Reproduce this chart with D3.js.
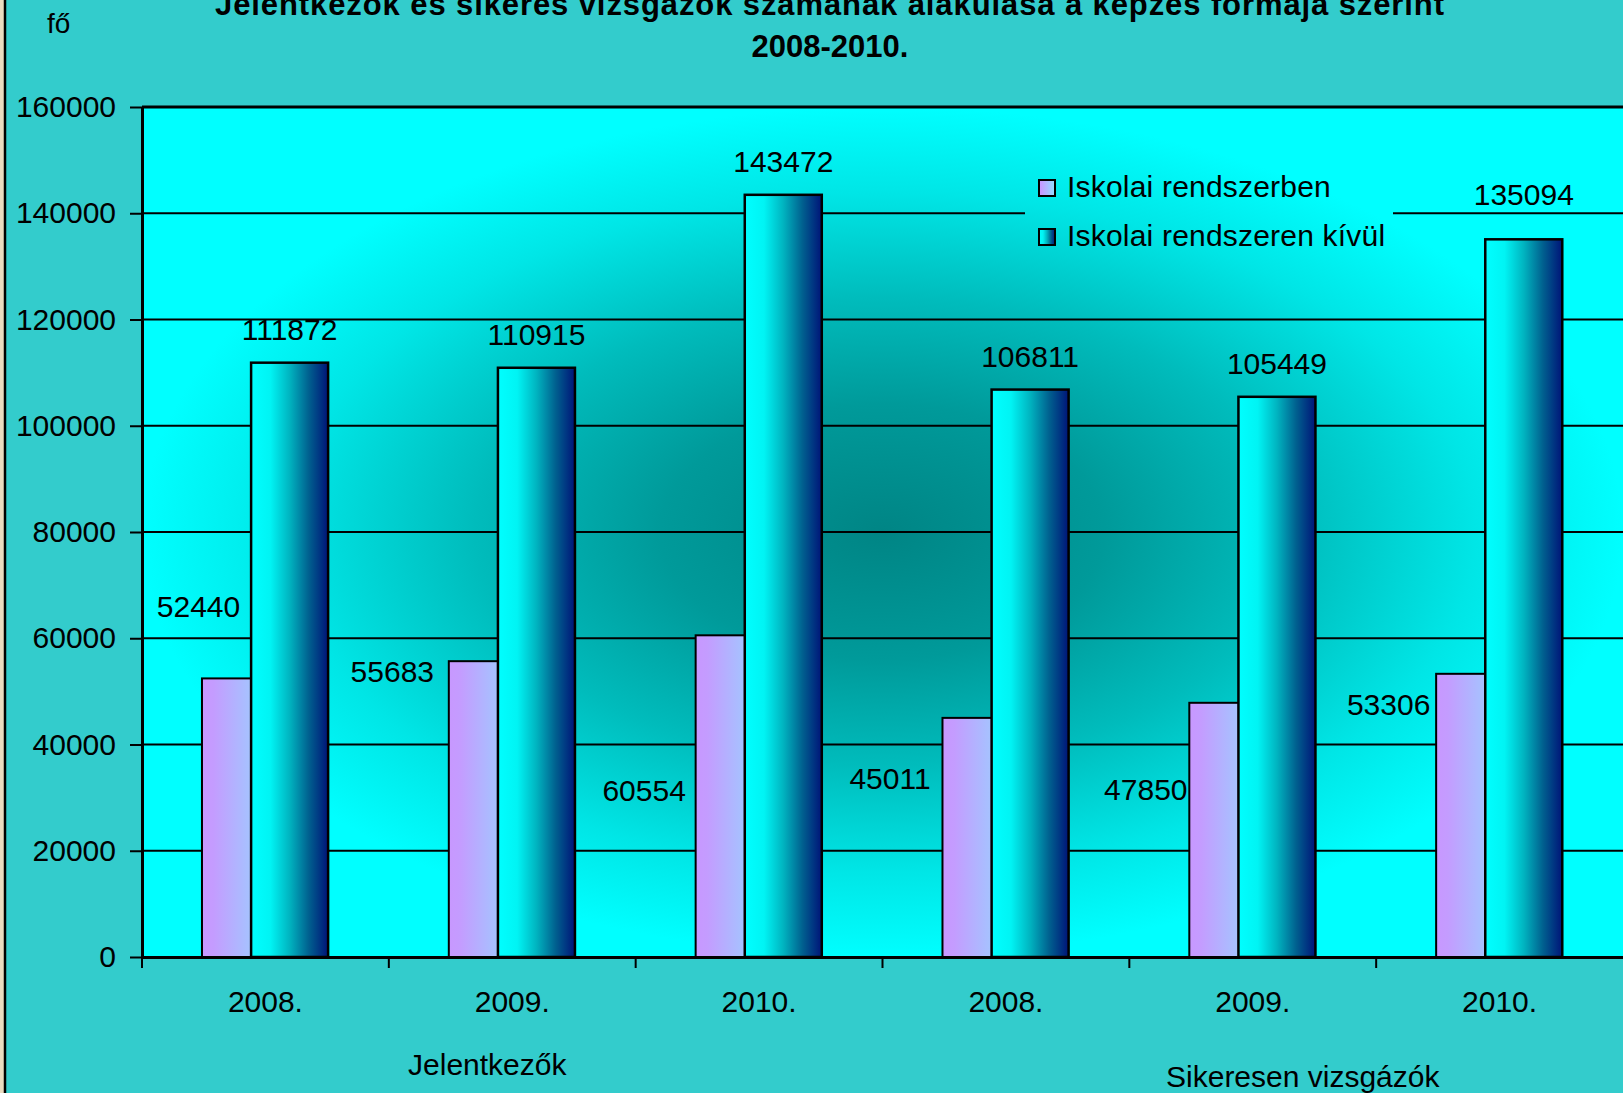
<!DOCTYPE html>
<html>
<head>
<meta charset="utf-8">
<script src="https://cdn.jsdelivr.net/npm/d3@7"></script>
<style>
  body { margin: 0; background: #33cccc; overflow: hidden; }
  svg text { font-family: "Liberation Sans", Arial, sans-serif; fill: #000; }
</style>
</head>
<body>
<div class="chartBox"></div>
<script>
// chart values
var categories = ["2008.", "2009.", "2010.", "2008. ", "2009. ", "2010. "];
var groups = ["Jelentkezők", "Sikeresen vizsgázók"];
var seriesNames = ["Iskolai rendszerben", "Iskolai rendszeren kívül"];
var inSchool = [52440, 55683, 60554, 45011, 47850, 53306];
var outSchool = [111872, 110915, 143472, 106811, 105449, 135094];
var yTicks = [0, 20000, 40000, 60000, 80000, 100000, 120000, 140000, 160000];

// hand placed label offsets (the purple labels were dragged around in the original)
var inLabelDx = [-42, -95, -90, -91, -82, -86];
var inLabelDy = [-72, 10, 155, 60, 86, 30];
var outLabelDy = [-34, -34, -34, -34, -34, -45];

var Chart = (function(){
  var W = 1623, H = 1093;
  var plot = {left: 142, top: 107, right: 1623, bottom: 957};
  var svg, defs, x, y;

  var makeGradients = function(){
    var bg = defs.append("radialGradient")
      .attr("id", "plotBg")
      .attr("gradientUnits", "userSpaceOnUse")
      .attr("cx", 0).attr("cy", 0).attr("r", 1)
      .attr("gradientTransform", "translate(" + ((plot.left + plot.right) / 2) + "," + ((plot.top + plot.bottom) / 2) + ") scale(" + ((plot.right - plot.left) / 2) + "," + ((plot.bottom - plot.top) / 2) + ")");
    [[0, "#008585"], [0.3, "#009a9a"], [0.55, "#00bcbc"], [0.8, "#00e6e6"], [1, "#00ffff"]].forEach(function(s){
      bg.append("stop").attr("offset", s[0]).attr("stop-color", s[1]);
    });

    var purple = defs.append("linearGradient").attr("id", "purpleBar");
    purple.append("stop").attr("offset", 0).attr("stop-color", "#c898ff");
    purple.append("stop").attr("offset", 0.15).attr("stop-color", "#c49cff");
    purple.append("stop").attr("offset", 1).attr("stop-color", "#8ee0ff");

    var cyan = defs.append("linearGradient").attr("id", "cyanBar");
    [[0, "#00ffff"], [0.25, "#00f4f4"], [0.5, "#00b4c0"], [0.75, "#00608f"], [1, "#001478"]].forEach(function(s){
      cyan.append("stop").attr("offset", s[0]).attr("stop-color", s[1]);
    });
  };

  var draw = function(){
    svg = d3.select(".chartBox").append("svg")
      .attr("width", W)
      .attr("height", H);
    defs = svg.append("defs");
    makeGradients();

    // outer area + left border
    svg.append("rect").attr("width", W).attr("height", H).attr("fill", "#33cccc");
    svg.append("rect").attr("x", 0).attr("y", 0).attr("width", 4).attr("height", H).attr("fill", "#eadcc0");
    svg.append("line").attr("x1", 5).attr("x2", 5).attr("y1", 0).attr("y2", H)
      .attr("stroke", "#000").attr("stroke-width", 2.5);

    x = d3.scaleBand().domain(categories).range([plot.left, plot.right]);
    y = d3.scaleLinear().domain([0, 160000]).range([plot.bottom, plot.top]);

    svg.append("rect")
      .attr("x", plot.left).attr("y", plot.top)
      .attr("width", plot.right - plot.left).attr("height", plot.bottom - plot.top)
      .attr("fill", "url(#plotBg)");

    // gridlines
    svg.append("g").selectAll("line").data(yTicks.slice(1)).enter().append("line")
      .attr("x1", plot.left).attr("x2", plot.right)
      .attr("y1", function(d){ return y(d); }).attr("y2", function(d){ return y(d); })
      .attr("stroke", "#000")
      .attr("stroke-width", function(d){ return d === 160000 ? 3 : 2; });

    // legend (covers the gridline)
    var legend = svg.append("g");
    legend.append("rect").attr("x", 1025).attr("y", 165).attr("width", 368).attr("height", 97)
      .attr("fill", "url(#plotBg)");
    var items = legend.selectAll(".item").data(seriesNames).enter().append("g")
      .attr("transform", function(d, i){ return "translate(1039," + (180 + i * 49) + ")"; });
    items.append("rect").attr("width", 16).attr("height", 16)
      .attr("fill", function(d, i){ return i === 0 ? "url(#purpleBar)" : "url(#cyanBar)"; })
      .attr("stroke", "#000").attr("stroke-width", 2);
    items.append("text").attr("x", 28).attr("y", 17)
      .style("font-size", "30px").style("letter-spacing", "0.2px")
      .text(function(d){ return d; });

    var bw = x.bandwidth();
    var barW = bw * 0.312;

    var bars = svg.append("g");
    bars.selectAll(".inBar").data(inSchool).enter().append("rect")
      .attr("x", function(d, i){ return x(categories[i]) + bw * 0.243; })
      .attr("y", function(d){ return y(d); })
      .attr("width", barW)
      .attr("height", function(d){ return y(0) - y(d); })
      .attr("fill", "url(#purpleBar)")
      .attr("stroke", "#000").attr("stroke-width", 2);
    bars.selectAll(".outBar").data(outSchool).enter().append("rect")
      .attr("x", function(d, i){ return x(categories[i]) + bw * 0.442; })
      .attr("y", function(d){ return y(d); })
      .attr("width", barW)
      .attr("height", function(d){ return y(0) - y(d); })
      .attr("fill", "url(#cyanBar)")
      .attr("stroke", "#000").attr("stroke-width", 2.5);

    // value labels
    var labels = svg.append("g").style("font-size", "30px").attr("text-anchor", "middle");
    labels.selectAll(".inLbl").data(inSchool).enter().append("text")
      .attr("x", function(d, i){ return x(categories[i]) + bw * 0.243 + barW / 2 + inLabelDx[i]; })
      .attr("y", function(d, i){ return y(d) + inLabelDy[i] + 11; })
      .text(function(d){ return d; });
    labels.selectAll(".outLbl").data(outSchool).enter().append("text")
      .attr("x", function(d, i){ return x(categories[i]) + bw * 0.442 + barW / 2; })
      .attr("y", function(d, i){ return y(d) + outLabelDy[i] + 11; })
      .text(function(d){ return d; });

    // y axis
    var yAxis = svg.append("g")
      .attr("transform", "translate(" + plot.left + ",0)")
      .call(d3.axisLeft(y).tickValues(yTicks).tickFormat(d3.format("d"))
        .tickSize(12).tickPadding(14).tickSizeOuter(0));
    yAxis.select(".domain").attr("stroke", "#000").attr("stroke-width", 3);
    yAxis.selectAll(".tick line").attr("stroke", "#000").attr("stroke-width", 2);
    yAxis.selectAll("text").style("font-size", "30px").style("font-family", "Liberation Sans, Arial, sans-serif");

    // x axis
    var xAxis = svg.append("g")
      .attr("transform", "translate(0," + plot.bottom + ")")
      .call(d3.axisBottom(x).tickSize(0).tickPadding(34).tickSizeOuter(0));
    xAxis.select(".domain").attr("stroke", "#000").attr("stroke-width", 3);
    xAxis.selectAll("text").style("font-size", "30px").style("font-family", "Liberation Sans, Arial, sans-serif");
    xAxis.selectAll(".sep").data(categories).enter().append("line")
      .attr("x1", function(d){ return x(d); }).attr("x2", function(d){ return x(d); })
      .attr("y1", 0).attr("y2", 11)
      .attr("stroke", "#000").attr("stroke-width", 2);

    // group labels under the categories
    var groupPos = [[categories[1], -25, 1075], [categories[4], 50, 1087]];
    svg.append("g").attr("text-anchor", "middle").style("font-size", "30px")
      .selectAll("text").data(groups).enter().append("text")
      .attr("x", function(d, i){ return x(groupPos[i][0]) + bw / 2 + groupPos[i][1]; })
      .attr("y", function(d, i){ return groupPos[i][2]; })
      .text(function(d){ return d; });

    // title + unit
    var title = svg.append("g").attr("text-anchor", "middle")
      .style("font-size", "31px").style("font-weight", "bold");
    title.append("text").attr("x", 830).attr("y", 15).style("letter-spacing", "0.9px")
      .text("Jelentkezők és sikeres vizsgázók számának alakulása a képzés formája szerint");
    title.append("text").attr("x", 830).attr("y", 57).text("2008-2010.");
    svg.append("text").attr("x", 47).attr("y", 33).style("font-size", "28px").text("fő");
  };

  return { init: draw };
})();

Chart.init();
</script>
</body>
</html>
